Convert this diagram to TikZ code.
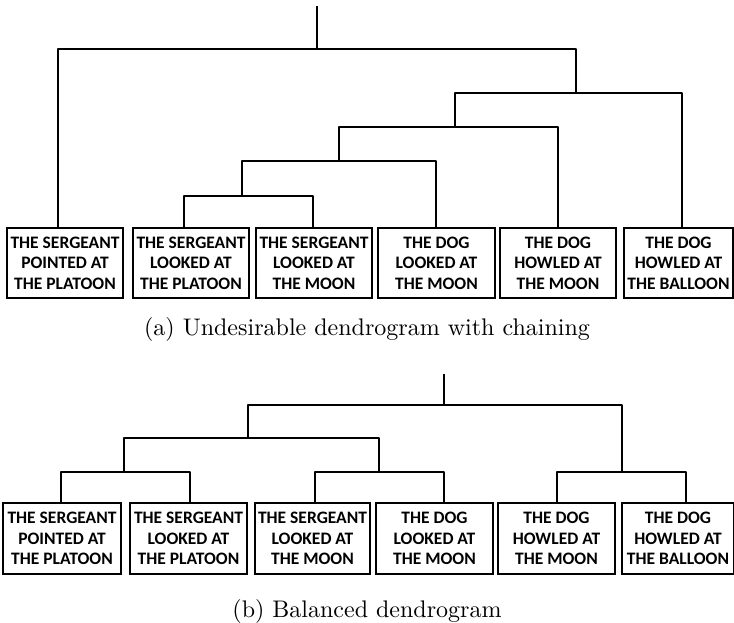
\documentclass[tikz,border=0pt]{standalone}
\usepackage{fontspec}
\newfontfamily\boxfont{Carlito}
\newfontfamily\capfont{lmroman10-regular.otf}
\begin{document}
\begin{tikzpicture}[x=1pt, y=-1pt,
  leaf/.style={draw, line width=2.5pt, inner sep=0pt, align=center,
    font=\boxfont\bfseries\fontsize{17.5}{20.5}\selectfont},
  link/.style={draw, line width=2.3pt, line join=round},
  caption/.style={anchor=base, font=\capfont\fontsize{24}{29}\selectfont}]
\useasboundingbox (0,0) rectangle (734,623);

% ---------- (a) chained dendrogram ----------
\node[leaf, minimum width=116pt, minimum height=70pt] (a1) at (65,263)    {THE SERGEANT\\POINTED AT\\THE PLATOON};
\node[leaf, minimum width=116pt, minimum height=70pt] (a2) at (191,263)   {THE SERGEANT\\LOOKED AT\\THE PLATOON};
\node[leaf, minimum width=116pt, minimum height=70pt] (a3) at (314,263)   {THE SERGEANT\\LOOKED AT\\THE MOON};
\node[leaf, minimum width=117pt, minimum height=70pt] (a4) at (436.5,263) {THE DOG\\LOOKED AT\\THE MOON};
\node[leaf, minimum width=116pt, minimum height=70pt] (a5) at (558,263)   {THE DOG\\HOWLED AT\\THE MOON};
\node[leaf, minimum width=109pt, minimum height=70pt] (a6) at (678.5,263) {THE DOG\\HOWLED AT\\THE BALLOON};

% leaf attachment points
\coordinate (ta1) at (58,228);
\coordinate (ta2) at (184,228);
\coordinate (ta3) at (313,228);
\coordinate (ta4) at (436,228);
\coordinate (ta5) at (558,228);
\coordinate (ta6) at (682,228);
% merges: stem position and bar height
\coordinate (na1) at (242,196);
\coordinate (na2) at (339,161);
\coordinate (na3) at (455,127);
\coordinate (na4) at (576,93);
\coordinate (na5) at (317,49);
\coordinate (ra)  at (317,6);

\path[link] (ta2) |- (na1) -| (ta3);
\path[link] (na1) |- (na2) -| (ta4);
\path[link] (na2) |- (na3) -| (ta5);
\path[link] (na3) |- (na4) -| (ta6);
\path[link] (ta1) |- (na5) -| (na4);
\path[link] (na5) -- (ra);

\node[caption] (capa) at (367,335) {(a) Undesirable dendrogram with chaining};

% ---------- (b) balanced dendrogram ----------
\node[leaf, minimum width=118pt, minimum height=71pt] (b1) at (62,538.5)    {THE SERGEANT\\POINTED AT\\THE PLATOON};
\node[leaf, minimum width=117pt, minimum height=71pt] (b2) at (188.5,538.5) {THE SERGEANT\\LOOKED AT\\THE PLATOON};
\node[leaf, minimum width=115pt, minimum height=71pt] (b3) at (312.5,538.5) {THE SERGEANT\\LOOKED AT\\THE MOON};
\node[leaf, minimum width=117pt, minimum height=71pt] (b4) at (434.5,538.5) {THE DOG\\LOOKED AT\\THE MOON};
\node[leaf, minimum width=117pt, minimum height=71pt] (b5) at (556.5,538.5) {THE DOG\\HOWLED AT\\THE MOON};
\node[leaf, minimum width=112pt, minimum height=71pt] (b6) at (678,538.5)   {THE DOG\\HOWLED AT\\THE BALLOON};

\coordinate (tb1) at (61,503);
\coordinate (tb2) at (190,503);
\coordinate (tb3) at (315,503);
\coordinate (tb4) at (444,503);
\coordinate (tb5) at (557,503);
\coordinate (tb6) at (686,503);
\coordinate (nb1) at (124,472);
\coordinate (nb2) at (379,472);
\coordinate (nb3) at (622,472);
\coordinate (nb4) at (248,438);
\coordinate (nb5) at (444,405);
\coordinate (rb)  at (444,374);

\path[link] (tb1) |- (nb1) -| (tb2);
\path[link] (tb3) |- (nb2) -| (tb4);
\path[link] (tb5) |- (nb3) -| (tb6);
\path[link] (nb1) |- (nb4) -| (nb2);
\path[link] (nb4) |- (nb5) -| (nb3);
\path[link] (nb5) -- (rb);

\node[caption] (capb) at (367,617) {(b) Balanced dendrogram};
\end{tikzpicture}
\end{document}
